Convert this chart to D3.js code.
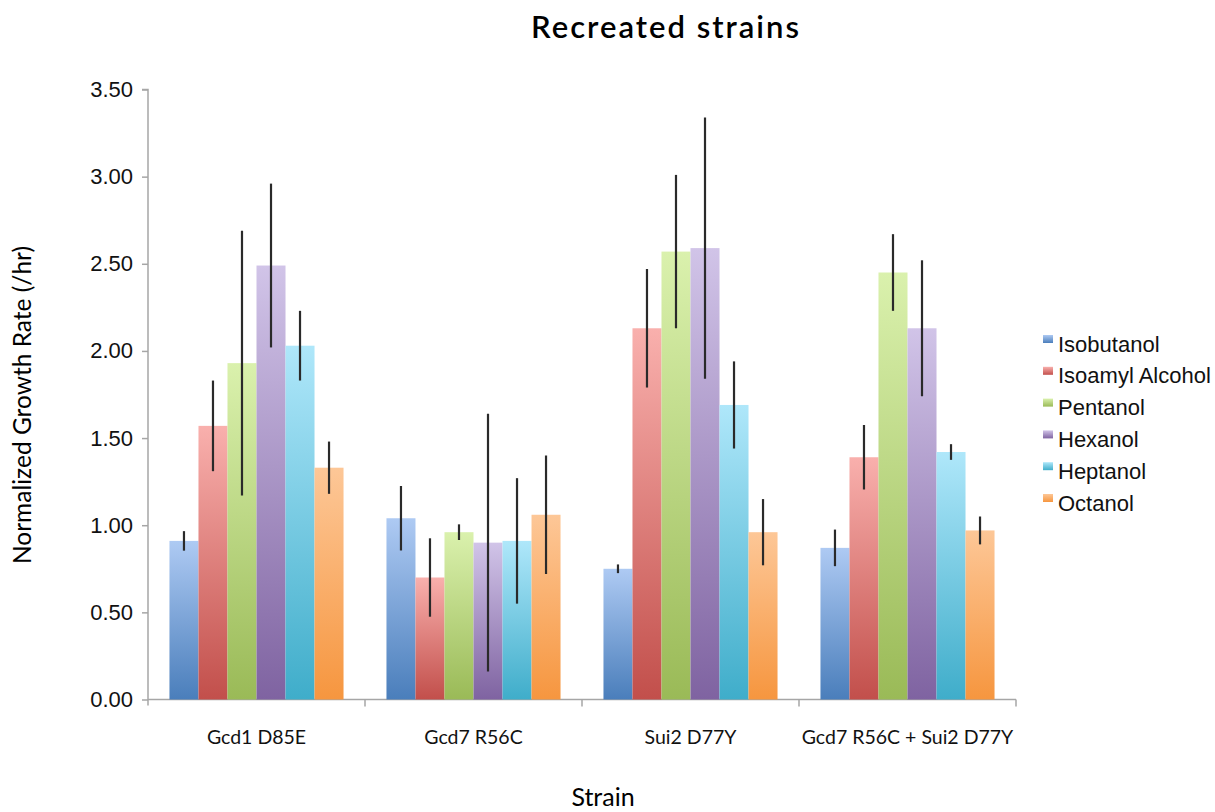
<!DOCTYPE html>
<html>
<head>
<meta charset="utf-8">
<script src="https://cdn.jsdelivr.net/npm/d3@7"></script>
<style>
  html, body { margin: 0; padding: 0; background: #fff; }
  svg { display: block; }
</style>
</head>
<body>
<svg id="chart" width="1215" height="812"></svg>
<script>
// Strains on the x axis
const strains = ["Gcd1 D85E", "Gcd7 R56C", "Sui2 D77Y", "Gcd7 R56C + Sui2 D77Y"];
// Alcohol series
const alcohols = ["Isobutanol", "Isoamyl Alcohol", "Pentanol", "Hexanol", "Heptanol", "Octanol"];

// Normalized growth rates (/hr), one value per strain
const isobutanol = [0.91, 1.04, 0.75, 0.87];
const isoamylAlcohol = [1.57, 0.70, 2.13, 1.39];
const pentanol = [1.93, 0.96, 2.57, 2.45];
const hexanol = [2.49, 0.90, 2.59, 2.13];
const heptanol = [2.03, 0.91, 1.69, 1.42];
const octanol = [1.33, 1.06, 0.96, 0.97];

// Error (± half-length of the bar) per strain
const isobutanolErr = [0.056, 0.185, 0.025, 0.105];
const isoamylAlcoholErr = [0.26, 0.225, 0.34, 0.185];
const pentanolErr = [0.76, 0.045, 0.44, 0.22];
const hexanolErr = [0.47, 0.74, 0.75, 0.39];
const heptanolErr = [0.20, 0.36, 0.25, 0.045];
const octanolErr = [0.15, 0.34, 0.19, 0.08];

// Y tick values
const yTicks = [0, 0.5, 1.0, 1.5, 2.0, 2.5, 3.0, 3.5];

const seriesValues = [isobutanol, isoamylAlcohol, pentanol, hexanol, heptanol, octanol];
const seriesErrors = [isobutanolErr, isoamylAlcoholErr, pentanolErr, hexanolErr, heptanolErr, octanolErr];

// Gradient stops (light top, saturated bottom) per series
const gradTop = ["#aecaf3", "#f9b0ad", "#daf1ad", "#d1c4e8", "#afe7fa", "#fdc797"];
const gradBottom = ["#4a7ebb", "#c24f4b", "#9aba57", "#7f63a1", "#3fadca", "#f6963f"];

const svg = d3.select("#chart");
const margin = { left: 148, right: 1016, top: 89.5, bottom: 699.5 };

const x0 = d3.scaleBand().domain(strains).range([margin.left, margin.right]).padding(0);
const x1 = d3.scaleBand().domain(alcohols).range([0, x0.bandwidth()]).paddingInner(0).paddingOuter(0.74);
const y = d3.scaleLinear().domain([0, 3.5]).range([margin.bottom, margin.top]);

// Gradients
const defs = svg.append("defs");
alcohols.forEach((a, i) => {
  const g = defs.append("linearGradient")
    .attr("id", "grad" + i)
    .attr("x1", 0).attr("y1", 0).attr("x2", 0).attr("y2", 1);
  g.append("stop").attr("offset", "0%").attr("stop-color", gradTop[i]);
  g.append("stop").attr("offset", "100%").attr("stop-color", gradBottom[i]);
});

// Title
svg.append("text")
  .attr("x", 666).attr("y", 38)
  .attr("text-anchor", "middle")
  .style("font-family", "Lato, 'Open Sans', sans-serif")
  .style("font-size", "31px")
  .style("font-weight", "600")
  .style("letter-spacing", "2px")
  .style("fill", "#000")
  .text("Recreated strains");

// Y axis
const yAxis = d3.axisLeft(y)
  .tickValues(yTicks)
  .tickFormat(d3.format(".2f"))
  .tickSize(6)
  .tickPadding(9);
const yG = svg.append("g").attr("transform", `translate(${margin.left},0)`).call(yAxis);
yG.select(".domain").attr("stroke", "#a6a6a6").attr("stroke-width", 1.5)
  .attr("d", `M-6,${margin.top}H0V${margin.bottom + 6}`);
yG.selectAll(".tick line").attr("stroke", "#a6a6a6").attr("stroke-width", 1.5);
yG.selectAll(".tick text")
  .style("font-family", "'Liberation Sans', Arial, sans-serif")
  .style("font-size", "22px")
  .style("fill", "#111");

// X axis baseline with separator ticks at band edges
const xAxisG = svg.append("g");
xAxisG.append("line")
  .attr("x1", margin.left).attr("x2", margin.right)
  .attr("y1", y(0)).attr("y2", y(0))
  .attr("stroke", "#a6a6a6").attr("stroke-width", 1.5);
const edges = strains.map(s => x0(s)).concat([x0(strains[strains.length - 1]) + x0.bandwidth()]);
xAxisG.selectAll("line.sep").data(edges.slice(1)).enter().append("line")
  .attr("class", "sep")
  .attr("x1", d => d).attr("x2", d => d)
  .attr("y1", y(0)).attr("y2", y(0) + 7)
  .attr("stroke", "#a6a6a6").attr("stroke-width", 1.5);

// Strain labels
xAxisG.selectAll("text.strain").data(strains).enter().append("text")
  .attr("class", "strain")
  .attr("x", d => x0(d) + x0.bandwidth() / 2)
  .attr("y", 744)
  .attr("text-anchor", "middle")
  .style("font-family", "Lato, 'Open Sans', sans-serif")
  .style("font-size", "19.5px")
  .style("fill", "#111")
  .text(d => d);

// Axis titles
svg.append("text")
  .attr("x", 603).attr("y", 806)
  .attr("text-anchor", "middle")
  .style("font-family", "Lato, 'Open Sans', sans-serif")
  .style("font-size", "25px")
  .style("fill", "#000")
  .text("Strain");

svg.append("text")
  .attr("transform", "translate(31,405) rotate(-90)")
  .attr("text-anchor", "middle")
  .style("font-family", "Lato, 'Open Sans', sans-serif")
  .style("font-size", "24.5px")
  .style("fill", "#000")
  .text("Normalized Growth Rate (/hr)");

// Bars and error bars
const rows = [];
strains.forEach((s, si) => {
  alcohols.forEach((a, ai) => {
    rows.push({ strain: s, alcohol: a, ai, value: seriesValues[ai][si], err: seriesErrors[ai][si] });
  });
});

const barG = svg.append("g");
barG.selectAll("rect").data(rows).enter().append("rect")
  .attr("x", d => x0(d.strain) + x1(d.alcohol))
  .attr("width", x1.bandwidth())
  .attr("y", d => y(d.value))
  .attr("height", d => y(0) - y(d.value))
  .attr("fill", d => `url(#grad${d.ai})`);

barG.selectAll("line.err").data(rows).enter().append("line")
  .attr("class", "err")
  .attr("x1", d => x0(d.strain) + x1(d.alcohol) + x1.bandwidth() / 2)
  .attr("x2", d => x0(d.strain) + x1(d.alcohol) + x1.bandwidth() / 2)
  .attr("y1", d => y(d.value + d.err))
  .attr("y2", d => y(d.value - d.err))
  .attr("stroke", "#2a2a2a")
  .attr("stroke-width", 2.2);

// Legend
const legend = svg.append("g");
const legendItems = legend.selectAll("g").data(alcohols).enter().append("g")
  .attr("transform", (d, i) => `translate(1043,${335 + i * 31.8})`);
legendItems.append("rect")
  .attr("width", 10).attr("height", 8)
  .attr("fill", (d, i) => `url(#grad${i})`);
legendItems.append("text")
  .attr("x", 15).attr("y", 16.5)
  .style("font-family", "'Liberation Sans', Arial, sans-serif")
  .style("font-size", "22px")
  .style("fill", "#111")
  .text(d => d);
</script>
</body>
</html>
